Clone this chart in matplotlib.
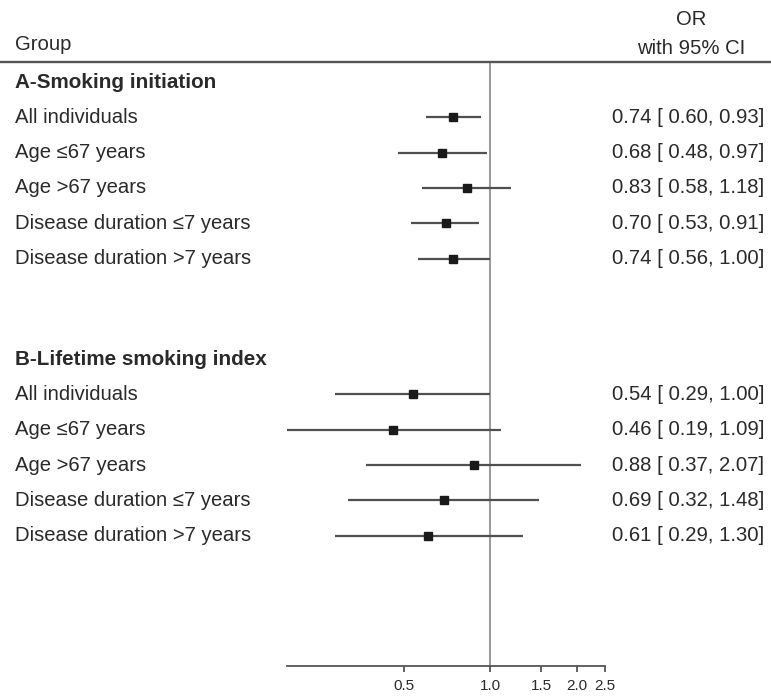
import matplotlib
matplotlib.use('Agg')
import matplotlib.pyplot as plt
import matplotlib.transforms as mtransforms
from matplotlib.lines import Line2D

# subgroup labels (same for both panels)
subgroups = ['All individuals', 'Age \u226467 years', 'Age >67 years',
             'Disease duration \u22647 years', 'Disease duration >7 years']

section_titles = ['A-Smoking initiation', 'B-Lifetime smoking index']

# odds ratios with 95% CI
or_a = [0.74, 0.68, 0.83, 0.70, 0.74]
lo_a = [0.60, 0.48, 0.58, 0.53, 0.56]
hi_a = [0.93, 0.97, 1.18, 0.91, 1.00]

or_b = [0.54, 0.46, 0.88, 0.69, 0.61]
lo_b = [0.29, 0.19, 0.37, 0.32, 0.29]
hi_b = [1.00, 1.09, 2.07, 1.48, 1.30]

xticks = [0.5, 1.0, 1.5, 2.0, 2.5]

# row positions (top-down)
header_rows = [0, 7.85]
rows_a = [1, 2, 3, 4, 5]
rows_b = [8.85, 9.85, 10.85, 11.85, 12.85]

plt.rcParams['font.family'] = ['Liberation Sans', 'DejaVu Sans']
TXT = '#2a2a2a'
W, H = 771, 696
FS = 14.6

fig = plt.figure(figsize=(W / 100, H / 100), dpi=100)
ax = fig.add_axes([287 / W, (H - 666) / H, (605 - 287) / W, (666 - 62) / H])
ax.set_xscale('log')
ax.set_xlim(0.197, 2.5)
ax.set_ylim(16.544, -0.567)

ax.axvline(1.0, ymin=0, ymax=(16.544 + 0.5) / (16.544 + 0.567),
           color='#9a9a9a', lw=1.4, zorder=1)

for rows, est, lo, hi in [(rows_a, or_a, lo_a, hi_a), (rows_b, or_b, lo_b, hi_b)]:
    ax.hlines(rows, lo, hi, color='#505050', lw=1.6, zorder=2)
    ax.plot(est, rows, 's', color='#1a1a1a', ms=5.8, zorder=3)

for s in ['top', 'left', 'right']:
    ax.spines[s].set_visible(False)
ax.spines['bottom'].set_color('#555555')
ax.spines['bottom'].set_linewidth(1.3)
ax.set_yticks([])
ax.set_xticks(xticks)
ax.set_xticklabels(['%.1f' % t for t in xticks], fontsize=11, color=TXT)
ax.xaxis.set_minor_locator(matplotlib.ticker.NullLocator())
ax.tick_params(axis='x', direction='out', length=4, width=1.3, color='#555555', pad=5)

# text columns
tr = mtransforms.blended_transform_factory(fig.transFigure, ax.transData)
xl = 15 / W
xr = 764 / W

for r, t in zip(header_rows, section_titles):
    ax.text(xl, r, t, transform=tr, ha='left', va='center', fontsize=14.9,
            fontweight='bold', color=TXT)

for rows, est, lo, hi in [(rows_a, or_a, lo_a, hi_a), (rows_b, or_b, lo_b, hi_b)]:
    for r, lab, e, l, h in zip(rows, subgroups, est, lo, hi):
        ax.text(xl, r, lab, transform=tr, ha='left', va='center', fontsize=FS, color=TXT)
        ax.text(xr, r, '%.2f [ %.2f, %.2f]' % (e, l, h), transform=tr,
                ha='right', va='center', fontsize=FS, color=TXT)

ax.text(xl, -1.05, 'Group', transform=tr, ha='left', va='center', fontsize=FS, color=TXT)
ax.text(691 / W, -1.76, 'OR', transform=tr, ha='center', va='center', fontsize=FS, color=TXT)
ax.text(691 / W, -0.96, 'with 95% CI', transform=tr, ha='center', va='center',
        fontsize=FS, color=TXT)

yl = (H - 62) / H
fig.add_artist(Line2D([0, 1], [yl, yl], transform=fig.transFigure,
                      color='#555555', lw=1.7))

fig.savefig('out.png', dpi=100, facecolor='white')
